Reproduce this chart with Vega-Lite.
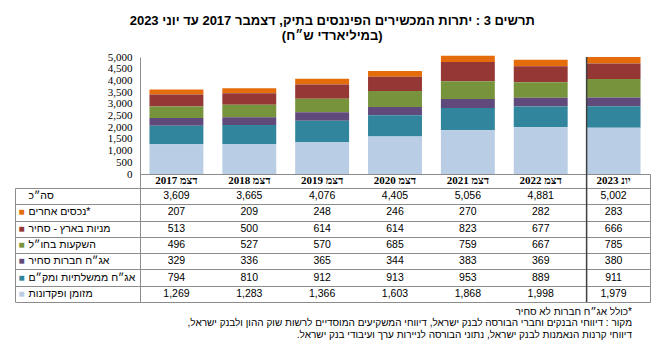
{
  "$schema": "https://vega.github.io/schema/vega-lite/v6.json",
  "padding": {"left": 14, "top": 15, "right": 6, "bottom": 4},
  "background": "white",
  "config": {"view": {"stroke": null}, "font": "Liberation Sans", "concat": {"spacing": 0}},
  "spacing": 0,
  "bounds": "flush",
  "title": {
    "text": ["תרשים 3 : יתרות המכשירים הפיננסים בתיק, דצמבר 2017 עד יוני 2023", "(במיליארדי ש״ח)"],
    "anchor": "middle", "fontSize": 13, "fontWeight": "bold", "font": "Liberation Sans",
    "lineHeight": 15, "offset": 8, "color": "#000"
  },
  "datasets": {
    "rows": [
      {"period": "דצמ 2017", "category": "סה״כ", "value": 3609},
      {"period": "דצמ 2017", "category": "נכסים אחרים*", "value": 207},
      {"period": "דצמ 2017", "category": "מניות בארץ - סחיר", "value": 513},
      {"period": "דצמ 2017", "category": "השקעות בחו״ל", "value": 496},
      {"period": "דצמ 2017", "category": "אג״ח חברות סחיר", "value": 329},
      {"period": "דצמ 2017", "category": "אג״ח ממשלתיות ומק״ם", "value": 794},
      {"period": "דצמ 2017", "category": "מזומן ופקדונות", "value": 1269},
      {"period": "דצמ 2018", "category": "סה״כ", "value": 3665},
      {"period": "דצמ 2018", "category": "נכסים אחרים*", "value": 209},
      {"period": "דצמ 2018", "category": "מניות בארץ - סחיר", "value": 500},
      {"period": "דצמ 2018", "category": "השקעות בחו״ל", "value": 527},
      {"period": "דצמ 2018", "category": "אג״ח חברות סחיר", "value": 336},
      {"period": "דצמ 2018", "category": "אג״ח ממשלתיות ומק״ם", "value": 810},
      {"period": "דצמ 2018", "category": "מזומן ופקדונות", "value": 1283},
      {"period": "דצמ 2019", "category": "סה״כ", "value": 4076},
      {"period": "דצמ 2019", "category": "נכסים אחרים*", "value": 248},
      {"period": "דצמ 2019", "category": "מניות בארץ - סחיר", "value": 614},
      {"period": "דצמ 2019", "category": "השקעות בחו״ל", "value": 570},
      {"period": "דצמ 2019", "category": "אג״ח חברות סחיר", "value": 365},
      {"period": "דצמ 2019", "category": "אג״ח ממשלתיות ומק״ם", "value": 912},
      {"period": "דצמ 2019", "category": "מזומן ופקדונות", "value": 1366},
      {"period": "דצמ 2020", "category": "סה״כ", "value": 4405},
      {"period": "דצמ 2020", "category": "נכסים אחרים*", "value": 246},
      {"period": "דצמ 2020", "category": "מניות בארץ - סחיר", "value": 614},
      {"period": "דצמ 2020", "category": "השקעות בחו״ל", "value": 685},
      {"period": "דצמ 2020", "category": "אג״ח חברות סחיר", "value": 344},
      {"period": "דצמ 2020", "category": "אג״ח ממשלתיות ומק״ם", "value": 913},
      {"period": "דצמ 2020", "category": "מזומן ופקדונות", "value": 1603},
      {"period": "דצמ 2021", "category": "סה״כ", "value": 5056},
      {"period": "דצמ 2021", "category": "נכסים אחרים*", "value": 270},
      {"period": "דצמ 2021", "category": "מניות בארץ - סחיר", "value": 823},
      {"period": "דצמ 2021", "category": "השקעות בחו״ל", "value": 759},
      {"period": "דצמ 2021", "category": "אג״ח חברות סחיר", "value": 383},
      {"period": "דצמ 2021", "category": "אג״ח ממשלתיות ומק״ם", "value": 953},
      {"period": "דצמ 2021", "category": "מזומן ופקדונות", "value": 1868},
      {"period": "דצמ 2022", "category": "סה״כ", "value": 4881},
      {"period": "דצמ 2022", "category": "נכסים אחרים*", "value": 282},
      {"period": "דצמ 2022", "category": "מניות בארץ - סחיר", "value": 677},
      {"period": "דצמ 2022", "category": "השקעות בחו״ל", "value": 667},
      {"period": "דצמ 2022", "category": "אג״ח חברות סחיר", "value": 369},
      {"period": "דצמ 2022", "category": "אג״ח ממשלתיות ומק״ם", "value": 889},
      {"period": "דצמ 2022", "category": "מזומן ופקדונות", "value": 1998},
      {"period": "יונ 2023", "category": "סה״כ", "value": 5002},
      {"period": "יונ 2023", "category": "נכסים אחרים*", "value": 283},
      {"period": "יונ 2023", "category": "מניות בארץ - סחיר", "value": 666},
      {"period": "יונ 2023", "category": "השקעות בחו״ל", "value": 785},
      {"period": "יונ 2023", "category": "אג״ח חברות סחיר", "value": 380},
      {"period": "יונ 2023", "category": "אג״ח ממשלתיות ומק״ם", "value": 911},
      {"period": "יונ 2023", "category": "מזומן ופקדונות", "value": 1979}
    ],
    "periods": [
      {"period": "דצמ 2017"}, {"period": "דצמ 2018"}, {"period": "דצמ 2019"}, {"period": "דצמ 2020"},
      {"period": "דצמ 2021"}, {"period": "דצמ 2022"}, {"period": "יונ 2023"}
    ],
    "one": [{"at": "יונ 2023"}]
  },
  "vconcat": [
    {
      "width": 510, "height": 117,
      "layer": [
        {
          "data": {"name": "rows"},
          "transform": [
            {"filter": "datum.category !== 'סה״כ'"},
            {"calculate": "indexof(['מזומן ופקדונות', 'אג״ח ממשלתיות ומק״ם', 'אג״ח חברות סחיר', 'השקעות בחו״ל', 'מניות בארץ - סחיר', 'נכסים אחרים*'], datum.category)", "as": "stackRank"}
          ],
          "mark": {"type": "bar"},
          "encoding": {
            "x": {"field": "period", "type": "nominal", "sort": ["דצמ 2017", "דצמ 2018", "דצמ 2019", "דצמ 2020", "דצמ 2021", "דצמ 2022", "יונ 2023"], "scale": {"paddingInner": 0.26, "paddingOuter": 0.13}, "axis": null},
            "y": {"field": "value", "type": "quantitative", "stack": "zero", "scale": {"domain": [0, 5000], "nice": false},
              "axis": {"values": [0, 500, 1000, 1500, 2000, 2500, 3000, 3500, 4000, 4500, 5000], "format": ",.0f", "grid": false, "ticks": false, "domain": true, "domainColor": "#8c8c8c", "labelFont": "Liberation Serif", "labelFontSize": 11, "labelPadding": 8, "labelColor": "#000", "labelFlush": false, "title": null}},
            "color": {"field": "category", "type": "nominal",
              "scale": {"domain": ["מזומן ופקדונות", "אג״ח ממשלתיות ומק״ם", "אג״ח חברות סחיר", "השקעות בחו״ל", "מניות בארץ - סחיר", "נכסים אחרים*"],
                "range": ["#b9cde5", "#31859c", "#604a7b", "#77933c", "#953735", "#e46c0a"]},
              "legend": null},
            "order": {"field": "stackRank", "type": "quantitative", "sort": "ascending"}
          }
        },
        {
          "data": {"name": "one"},
          "mark": {"type": "rule", "color": "#404040", "strokeWidth": 1.5},
          "encoding": {"x": {"field": "at", "type": "nominal", "bandPosition": 0}}
        }
      ]
    },
    {
      "width": 510, "height": 14,
      "view": {"stroke": "#8c8c8c", "strokeWidth": 1},
      "layer": [
        {
          "data": {"name": "periods"},
          "mark": {"type": "text", "font": "Liberation Serif", "fontWeight": "bold", "fontSize": 11, "baseline": "middle", "color": "#000"},
          "encoding": {
            "x": {"field": "period", "type": "nominal", "sort": ["דצמ 2017", "דצמ 2018", "דצמ 2019", "דצמ 2020", "דצמ 2021", "דצמ 2022", "יונ 2023"], "scale": {"paddingInner": 0.26, "paddingOuter": 0.13}, "axis": null},
            "text": {"field": "period"}
          }
        },
        {
          "data": {"name": "one"},
          "mark": {"type": "rule", "color": "#404040", "strokeWidth": 1.5},
          "encoding": {"x": {"field": "at", "type": "nominal", "bandPosition": 0}}
        }
      ]
    },
    {
      "width": 510, "height": 114,
      "view": {"stroke": "#8c8c8c", "strokeWidth": 1},
      "title": {
        "text": ["כולל אג״ח חברות לא סחיר*", "מקור : דיווחי הבנקים וחברי הבורסה לבנק ישראל, דיווחי המשקיעים המוסדיים לרשות שוק ההון ולבנק ישראל,‏", "דיווחי קרנות הנאמנות לבנק ישראל, נתוני הבורסה לניירות ערך ועיבודי בנק ישראל.‏"],
        "orient": "bottom", "anchor": "end", "align": "right", "fontSize": 10, "fontWeight": "normal", "lineHeight": 11.5, "offset": 4, "dx": -18, "color": "#000", "font": "Liberation Sans"
      },
      "resolve": {"axis": {"y": "independent"}},
      "layer": [
        {
          "data": {"name": "rows"},
          "mark": {"type": "text", "fontSize": 10.5, "baseline": "middle", "color": "#000"},
          "encoding": {
            "x": {"field": "period", "type": "nominal", "sort": ["דצמ 2017", "דצמ 2018", "דצמ 2019", "דצמ 2020", "דצמ 2021", "דצמ 2022", "יונ 2023"], "scale": {"paddingInner": 0.26, "paddingOuter": 0.13}, "axis": null},
            "y": {"field": "category", "type": "nominal",
              "sort": ["סה״כ", "נכסים אחרים*", "מניות בארץ - סחיר", "השקעות בחו״ל", "אג״ח חברות סחיר", "אג״ח ממשלתיות ומק״ם", "מזומן ופקדונות"],
              "axis": {"title": null, "orient": "left", "domain": false, "ticks": true, "tickBand": "extent", "tickSize": 125, "tickColor": "#8c8c8c", "tickWidth": 1,
                "grid": true, "gridColor": "#8c8c8c", "gridWidth": 1, "labels": false}},
            "text": {"field": "value", "type": "quantitative", "format": ",.0f"}
          }
        },
        {
          "data": {"name": "rows"},
          "mark": {"type": "tick", "opacity": 0},
          "encoding": {
            "y": {"field": "category", "type": "nominal",
              "sort": ["סה״כ", "נכסים אחרים*", "מניות בארץ - סחיר", "השקעות בחו״ל", "אג״ח חברות סחיר", "אג״ח ממשלתיות ומק״ם", "מזומן ופקדונות"],
              "axis": {"title": null, "orient": "left", "offset": 125, "domain": true, "domainColor": "#8c8c8c", "ticks": false, "grid": false,
                "labelExpr": "datum.value === 'סה״כ' ? '' : '■'", "labelAlign": "left", "labelPadding": -3, "labelFontSize": 10, "labelFlush": false,
                "labelColor": {"condition": [
                  {"test": "datum.value === 'נכסים אחרים*'", "value": "#e46c0a"},
                  {"test": "datum.value === 'מניות בארץ - סחיר'", "value": "#953735"},
                  {"test": "datum.value === 'השקעות בחו״ל'", "value": "#77933c"},
                  {"test": "datum.value === 'אג״ח חברות סחיר'", "value": "#604a7b"},
                  {"test": "datum.value === 'אג״ח ממשלתיות ומק״ם'", "value": "#31859c"}
                ], "value": "#b9cde5"}}}
          }
        },
        {
          "data": {"name": "rows"},
          "mark": {"type": "tick", "opacity": 0},
          "encoding": {
            "y": {"field": "category", "type": "nominal",
              "sort": ["סה״כ", "נכסים אחרים*", "מניות בארץ - סחיר", "השקעות בחו״ל", "אג״ח חברות סחיר", "אג״ח ממשלתיות ומק״ם", "מזומן ופקדונות"],
              "axis": {"title": null, "orient": "left", "offset": 125, "domain": false, "ticks": false, "grid": false,
                "labelAlign": "left", "labelPadding": -13, "labelFontSize": 10.5, "labelFlush": false, "labelBound": false, "labelOverlap": false, "labelLimit": 200,
                "labelColor": "#000", "labelFont": "Liberation Sans"}}
          }
        },
        {
          "data": {"name": "one"},
          "mark": {"type": "rule", "color": "#404040", "strokeWidth": 1.5},
          "encoding": {"x": {"field": "at", "type": "nominal", "bandPosition": 0}}
        }
      ]
    }
  ]
}
